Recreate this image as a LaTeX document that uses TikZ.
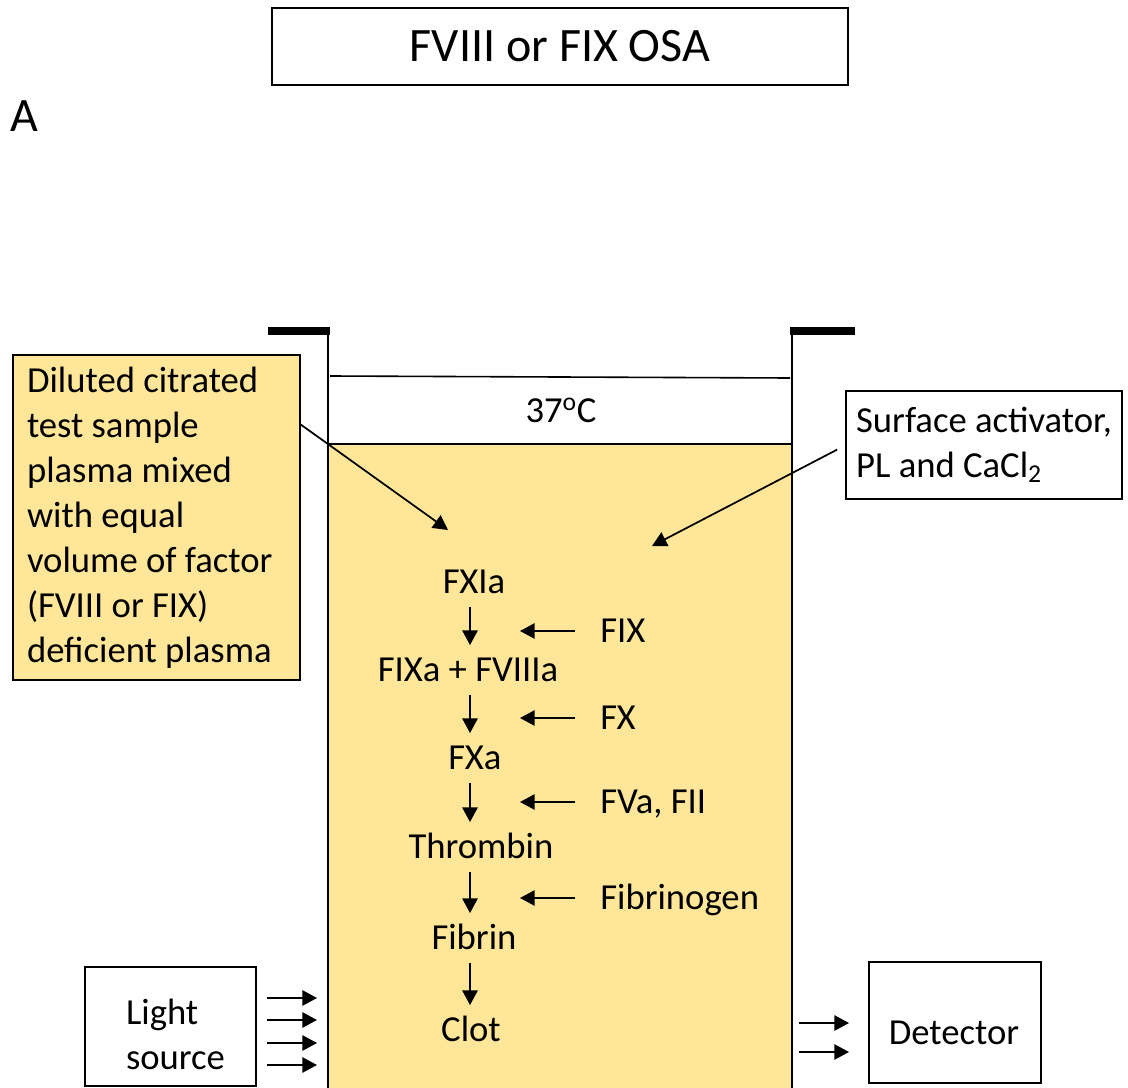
\documentclass[tikz,border=0pt]{standalone}
\usepackage{fontspec}
\setmainfont{Carlito}
\usetikzlibrary{arrows.meta}
\definecolor{sampleyellow}{HTML}{FFE699}
\tikzset{
	arr/.style={-{Triangle[length=11pt,width=11.5pt]}, line width=1.3pt},
	flow/.style={arr, shorten <=10pt, shorten >=10pt},
	txt/.style={inner sep=0pt, text height=17pt, text depth=0pt, font=\fontsize{27.5}{34}\selectfont},
	box/.style={draw, line width=1.5pt, outer sep=0pt, align=flush left, font=\fontsize{27.5}{33.75}\selectfont},
}
\begin{document}
\begin{tikzpicture}[x=0.75pt,y=-0.75pt]
	\useasboundingbox (0,0) rectangle (1128,1088);
	% cuvette
	\fill[sampleyellow] (328,444) rectangle (792,1088);
	\draw[line width=1.5pt] (328,1088) -- (328,330) (792,1088) -- (792,330)
		(328,444) -- (792,444);
	\draw[line width=1.2pt] (330,376) -- (790,378);
	\draw[line width=6pt] (268,331) -- (330,331) (790,331) -- (855,331);
	\path (561,410) node[font=\fontsize{27.5}{34}\selectfont] (temp) {37\textsuperscript{o}C};
	\coordinate (wallL) at (328,1088);
	\coordinate (wallR) at (792,1088);
	\coordinate (axis) at (470,0);
	\coordinate (tip) at (520,0);
	\coordinate (s1) at (448,530);
	\coordinate (r1) at (652,546);

	\node[box, minimum width=432pt, minimum height=57.75pt, align=center,
		font=\fontsize{36}{40}\selectfont] (title) at (560,46.5) {FVIII or FIX OSA};
	\node[inner sep=0pt, font=\fontsize{36}{40}\selectfont] (panel) at (24,116) {A};

	\node[box, fill=sampleyellow, anchor=north west, text width=194.25pt, inner xsep=10.5pt,
		minimum height=243.75pt] (sample) at (13,355)
		{Diluted citrated\\test sample\\plasma mixed\\with equal\\volume of factor\\(FVIII or FIX)\\deficient plasma};
	\node[box, anchor=north west, minimum width=207pt, minimum height=81pt] (reag) at (846,391)
		{Surface activator,\\PL and CaCl\textsubscript{2}};
	\node[box, anchor=north west, minimum width=128.25pt, minimum height=89.25pt] (light) at (85,967) {};
	\node[box, draw=none, anchor=north west, inner sep=0pt] (lighttxt) at (126,999) {Light\\source};
	\node[box, anchor=north west, minimum width=129pt, minimum height=90.75pt] (det) at (869,962) {};
	\node[box, draw=none, inner sep=0pt] (dettxt) at (954,1033) {Detector};

	\draw[arr] (sample.north east) ++(0,69) -- (s1);
	\draw[arr, shorten <=7.5pt] (reag.west) -- (r1);

	% cascade
	\node[txt] (fxia) at (474,582) {FXIa};
	\node[txt] (fixa) at (468,670) {FIXa + FVIIIa};
	\node[txt] (fxa) at (475,758) {FXa};
	\node[txt] (thr) at (481,847) {Thrombin};
	\node[txt] (fib) at (474,938) {Fibrin};
	\node[txt] (clot) at (471,1030) {Clot};
	\draw[flow] (fxia.south -| axis) -- (fixa.north -| axis);
	\draw[flow] (fixa.south -| axis) -- (fxa.north -| axis);
	\draw[flow] (fxa.south -| axis) -- (thr.north -| axis);
	\draw[flow] (thr.south -| axis) -- (fib.north -| axis);
	\draw[flow] (fib.south -| axis) -- (clot.north -| axis);

	\node[txt, anchor=west] (fix) at (600,631) {FIX};
	\node[txt, anchor=west] (fx) at (600,718) {FX};
	\node[txt, anchor=west] (fva) at (600,802) {FVa, FII};
	\node[txt, anchor=west] (fbg) at (600,898) {Fibrinogen};
	\foreach \n in {fix,fx,fva,fbg}
		\draw[arr, shorten <=18.75pt] (\n.west) -- (\n.west -| tip);

	% light path
	\foreach \y in {998,1020,1043,1065}
		\draw[arr, shorten <=8pt, shorten >=8.25pt] (light.east |- 0,\y) -- (wallL |- 0,\y);
	\foreach \y in {1023,1052}
		\draw[arr, shorten <=5.25pt, shorten >=15pt] (wallR |- 0,\y) -- (det.west |- 0,\y);
\end{tikzpicture}
\end{document}
